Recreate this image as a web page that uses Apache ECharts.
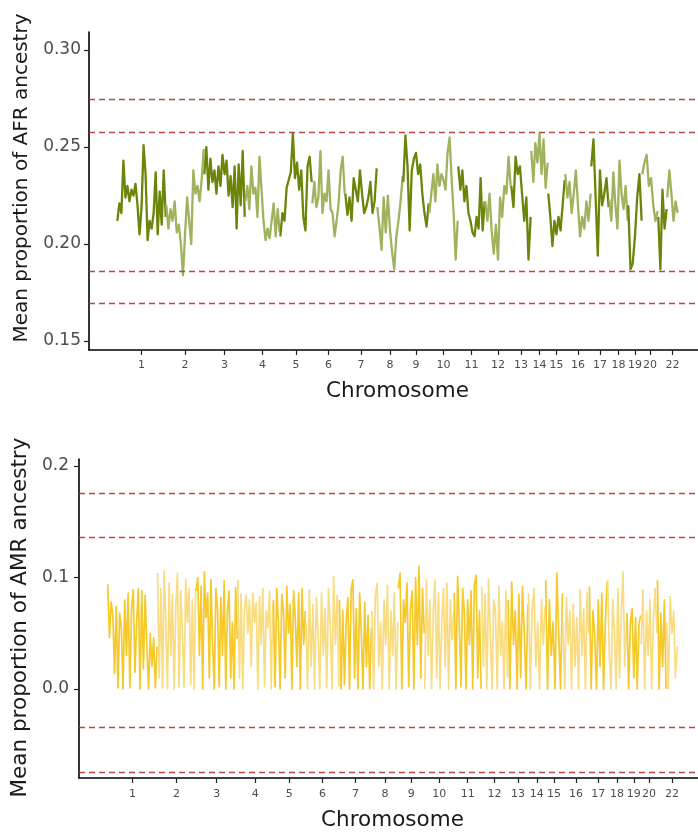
<!DOCTYPE html>
<html>
<head>
<meta charset="utf-8">
<script src="https://cdn.jsdelivr.net/npm/echarts@6/dist/echarts.min.js"></script>
<style>
html, body { margin: 0; padding: 0; background: #fff; }
#main { width: 698px; height: 832px; }
</style>
</head>
<body>
<div id="main"></div>
<script>
// chromosomes and their relative lengths on the genome axis
var chromNames = ['1','2','3','4','5','6','7','8','9','10','11','12','13','14','15','16','17','18','19','20','21','22'];
var chromLen = [49, 38, 41, 35, 32, 33, 32, 26, 26, 29, 27, 26, 20, 17, 17, 26, 18, 19, 14, 16, 9, 11];

// mean AFR ancestry along each chromosome
var afrByChrom = [
	[0.212, 0.221, 0.216, 0.243, 0.224, 0.230, 0.222, 0.228, 0.225, 0.231, 0.220, 0.205, 0.219, 0.251, 0.236, 0.202, 0.212, 0.208, 0.216, 0.237, 0.205, 0.227, 0.210, 0.238, 0.214],
	[0.220, 0.208, 0.218, 0.212, 0.222, 0.206, 0.210, 0.200, 0.184, 0.205, 0.224, 0.212, 0.200, 0.238, 0.226, 0.230, 0.222, 0.233, 0.249],
	[0.236, 0.250, 0.228, 0.244, 0.232, 0.238, 0.226, 0.240, 0.230, 0.246, 0.236, 0.243, 0.225, 0.235, 0.219, 0.240, 0.208, 0.241, 0.220, 0.248, 0.214],
	[0.222, 0.230, 0.218, 0.240, 0.226, 0.229, 0.214, 0.245, 0.228, 0.212, 0.202, 0.208, 0.203, 0.212, 0.221, 0.204, 0.218, 0.206],
	[0.204, 0.216, 0.212, 0.229, 0.233, 0.237, 0.257, 0.234, 0.242, 0.228, 0.238, 0.214, 0.207, 0.240, 0.245, 0.232],
	[0.221, 0.232, 0.219, 0.224, 0.248, 0.216, 0.226, 0.222, 0.238, 0.218, 0.216, 0.204, 0.212, 0.221, 0.238, 0.245, 0.226],
	[0.226, 0.215, 0.224, 0.212, 0.234, 0.228, 0.222, 0.238, 0.226, 0.216, 0.219, 0.224, 0.232, 0.216, 0.222, 0.239],
	[0.219, 0.209, 0.197, 0.224, 0.206, 0.225, 0.207, 0.196, 0.187, 0.204, 0.212, 0.222, 0.235],
	[0.232, 0.256, 0.240, 0.207, 0.238, 0.244, 0.247, 0.236, 0.241, 0.226, 0.216, 0.209, 0.221],
	[0.216, 0.226, 0.236, 0.222, 0.241, 0.230, 0.236, 0.233, 0.228, 0.247, 0.255, 0.234, 0.216, 0.192, 0.212],
	[0.240, 0.228, 0.238, 0.222, 0.230, 0.216, 0.212, 0.206, 0.204, 0.214, 0.208, 0.234, 0.207, 0.222],
	[0.222, 0.212, 0.226, 0.207, 0.195, 0.210, 0.192, 0.224, 0.214, 0.230, 0.226, 0.245, 0.230],
	[0.230, 0.219, 0.245, 0.236, 0.240, 0.226, 0.212, 0.224, 0.192, 0.214],
	[0.248, 0.232, 0.252, 0.242, 0.257, 0.236, 0.254, 0.229, 0.242],
	[0.226, 0.214, 0.199, 0.212, 0.205, 0.214, 0.207, 0.220, 0.233],
	[0.236, 0.224, 0.232, 0.216, 0.226, 0.238, 0.220, 0.204, 0.214, 0.208, 0.222, 0.212, 0.226],
	[0.240, 0.254, 0.224, 0.194, 0.238, 0.220, 0.226, 0.234, 0.219],
	[0.223, 0.212, 0.237, 0.220, 0.208, 0.243, 0.226, 0.218, 0.230, 0.212],
	[0.220, 0.187, 0.190, 0.204, 0.224, 0.236, 0.212],
	[0.236, 0.242, 0.246, 0.230, 0.234, 0.220, 0.212, 0.217],
	[0.214, 0.187, 0.228, 0.208, 0.218],
	[0.224, 0.238, 0.226, 0.212, 0.222, 0.216]
];

// mean AMR ancestry along each chromosome
var amrByChrom = [
	[0.094, 0.046, 0.078, 0.066, 0.014, 0.074, 0.001, 0.068, 0.055, 0.000, 0.080, 0.030, 0.086, 0.001, 0.072, 0.089, 0.015, 0.060, 0.090, 0.000, 0.088, 0.018, 0.084, 0.040, 0.000, 0.050, 0.020, 0.046, 0.001, 0.038],
	[0.104, 0.010, 0.090, 0.001, 0.106, 0.060, 0.000, 0.095, 0.030, 0.085, 0.000, 0.072, 0.104, 0.002, 0.088, 0.050, 0.001, 0.098, 0.060, 0.090, 0.004, 0.080, 0.000, 0.090],
	[0.088, 0.100, 0.030, 0.092, 0.000, 0.105, 0.064, 0.086, 0.010, 0.098, 0.040, 0.000, 0.090, 0.072, 0.002, 0.082, 0.030, 0.097, 0.000, 0.070, 0.088, 0.010, 0.060, 0.000, 0.091, 0.045],
	[0.098, 0.010, 0.085, 0.000, 0.072, 0.084, 0.050, 0.080, 0.020, 0.086, 0.060, 0.078, 0.000, 0.083, 0.040, 0.090, 0.002, 0.070, 0.055, 0.088, 0.000, 0.076],
	[0.080, 0.002, 0.090, 0.060, 0.000, 0.085, 0.070, 0.010, 0.092, 0.050, 0.076, 0.000, 0.088, 0.064, 0.020, 0.086, 0.000, 0.090, 0.040, 0.070],
	[0.060, 0.000, 0.089, 0.020, 0.076, 0.000, 0.082, 0.050, 0.000, 0.086, 0.030, 0.072, 0.001, 0.090, 0.060, 0.000, 0.101, 0.040, 0.084, 0.002],
	[0.080, 0.000, 0.070, 0.004, 0.060, 0.082, 0.000, 0.090, 0.098, 0.010, 0.072, 0.000, 0.086, 0.050, 0.000, 0.078, 0.020, 0.066, 0.000, 0.055],
	[0.070, 0.000, 0.084, 0.095, 0.020, 0.060, 0.000, 0.080, 0.040, 0.093, 0.000, 0.070, 0.030, 0.086, 0.000, 0.060],
	[0.090, 0.104, 0.000, 0.080, 0.060, 0.095, 0.002, 0.072, 0.088, 0.000, 0.100, 0.040, 0.110, 0.010, 0.090, 0.050],
	[0.000, 0.098, 0.030, 0.080, 0.000, 0.070, 0.098, 0.010, 0.086, 0.000, 0.060, 0.090, 0.020, 0.095, 0.000, 0.080, 0.044, 0.070],
	[0.086, 0.000, 0.101, 0.060, 0.002, 0.090, 0.070, 0.000, 0.080, 0.040, 0.088, 0.000, 0.094, 0.102, 0.010, 0.070, 0.000],
	[0.092, 0.020, 0.085, 0.000, 0.098, 0.050, 0.000, 0.080, 0.070, 0.000, 0.092, 0.030, 0.060, 0.000, 0.088, 0.010],
	[0.080, 0.000, 0.096, 0.040, 0.070, 0.000, 0.085, 0.010, 0.092, 0.050, 0.000, 0.076],
	[0.086, 0.000, 0.070, 0.090, 0.020, 0.060, 0.000, 0.080, 0.040, 0.074],
	[0.098, 0.000, 0.080, 0.030, 0.060, 0.000, 0.104, 0.050, 0.000, 0.086],
	[0.060, 0.000, 0.082, 0.040, 0.070, 0.000, 0.076, 0.020, 0.064, 0.000, 0.089, 0.030, 0.072, 0.000, 0.086, 0.050],
	[0.092, 0.000, 0.070, 0.050, 0.000, 0.080, 0.020, 0.086, 0.000, 0.060, 0.096],
	[0.098, 0.030, 0.000, 0.080, 0.050, 0.000, 0.090, 0.010, 0.070, 0.105, 0.020, 0.060],
	[0.068, 0.000, 0.060, 0.072, 0.010, 0.064, 0.000, 0.058, 0.066],
	[0.040, 0.089, 0.000, 0.070, 0.030, 0.080, 0.000, 0.064, 0.090, 0.050],
	[0.098, 0.000, 0.068, 0.020, 0.080, 0.000],
	[0.060, 0.000, 0.083, 0.050, 0.070, 0.010, 0.038]
];

// threshold lines (dashed)
var afrLines = [0.2746, 0.2576, 0.1862, 0.1694];
var amrLines = [0.176, 0.1357, -0.0344, -0.0748];

// y tick labels
var afrTicks = [0.15, 0.20, 0.25, 0.30];
var amrTicks = [0.0, 0.1, 0.2];

var chromStart = [], chromMid = [];
var acc = 0;
for (var i = 0; i < chromLen.length; i++) {
	chromStart.push(acc);
	chromMid.push(acc + chromLen[i] / 2);
	acc += chromLen[i];
}
var genomeLen = acc;
var pad = genomeLen * 0.05;

function chromPoints(vals, i) {
	var pts = [];
	var n = vals.length;
	for (var j = 0; j < n; j++) {
		pts.push([chromStart[i] + chromLen[i] * (j + 0.15) / (n - 0.7), vals[j]]);
	}
	return pts;
}

function chromLabel(v) {
	for (var k = 0; k < chromMid.length; k++) {
		if (Math.abs(chromMid[k] - v) < 1e-6) return chromNames[k];
	}
	return '';
}

var font = 'DejaVu Sans';

function makeXAxis(gi, margin, gap, fs) {
	return {
		type: 'value',
		gridIndex: gi,
		min: -pad,
		max: genomeLen + pad,
		name: 'Chromosome',
		nameLocation: 'middle',
		nameGap: gap,
		nameTextStyle: { fontFamily: font, fontSize: fs, color: '#1a1a1a' },
		axisLine: { onZero: false, lineStyle: { color: '#000', width: 1.6 } },
		axisTick: { show: true, length: 5, customValues: chromMid, lineStyle: { color: '#222', width: 1.2 } },
		axisLabel: { customValues: chromMid, hideOverlap: false, showMinLabel: true, showMaxLabel: true,
			margin: margin, formatter: chromLabel, fontFamily: font, fontSize: 11, color: '#4d4d4d' },
		splitLine: { show: false }
	};
}

function makeYAxis(gi, min, max, ticks, digits, name, gap, margin, fs, shift) {
	return {
		type: 'value',
		gridIndex: gi,
		min: min,
		max: max,
		name: name,
		nameLocation: 'middle',
		nameGap: gap,
		nameTextStyle: { fontFamily: font, fontSize: fs, color: '#1a1a1a', padding: [0, 0, 0, shift] },
		axisLine: { show: true, onZero: false, lineStyle: { color: '#000', width: 1.6 } },
		axisTick: { show: true, length: 5, customValues: ticks, lineStyle: { color: '#222', width: 1.2 } },
		axisLabel: { customValues: ticks, showMinLabel: true, showMaxLabel: true, margin: margin,
			fontFamily: font, fontSize: 17, color: '#4d4d4d',
			formatter: function(v) { return v.toFixed(digits); } },
		splitLine: { show: false }
	};
}

function panelSeries(byChrom, gi, colors, width, lines) {
	var out = [];
	for (var i = 0; i < byChrom.length; i++) {
		var s = {
			type: 'line',
			xAxisIndex: gi,
			yAxisIndex: gi,
			data: chromPoints(byChrom[i], i),
			showSymbol: false,
			symbol: 'none',
			lineStyle: { color: colors[i % 2], width: width, join: 'round' },
			silent: true,
			animation: false
		};
		if (i == 0) {
			var dash = { color: '#b5332e', width: 1.3, type: [6, 4], opacity: 0.9 };
			s.markLine = {
				silent: true,
				precision: 5,
				symbol: ['none', 'none'],
				label: { show: false },
				animation: false,
				lineStyle: dash,
				emphasis: { disabled: true },
				data: lines.map(function(v) { return { yAxis: v, lineStyle: dash }; })
			};
		}
		out.push(s);
	}
	return out;
}

var chart = echarts.init(document.getElementById('main'), null, { renderer: 'canvas' });
chart.setOption({
	backgroundColor: '#fff',
	animation: false,
	grid: [
		{ left: 89, top: 32, width: 617, height: 318, outerBoundsMode: 'none' },
		{ left: 79, top: 459, width: 627, height: 319, outerBoundsMode: 'none' }
	],
	xAxis: [makeXAxis(0, 10, 30, 21.5), makeXAxis(1, 11, 31, 21.5)],
	yAxis: [
		makeYAxis(0, 0.1454, 0.3093, afrTicks, 2, 'Mean proportion of AFR ancestry', 50, 8, 20, 26),
		makeYAxis(1, -0.0798, 0.2063, amrTicks, 1, 'Mean proportion of AMR ancestry', 40, 10, 21.5, 2)
	],
	series: panelSeries(afrByChrom, 0, ['#6a860a', '#9fb35f'], 2.3, afrLines)
		.concat(panelSeries(amrByChrom, 1, ['#f6c828', '#fadc80'], 1.7, amrLines))
});
</script>
</body>
</html>
